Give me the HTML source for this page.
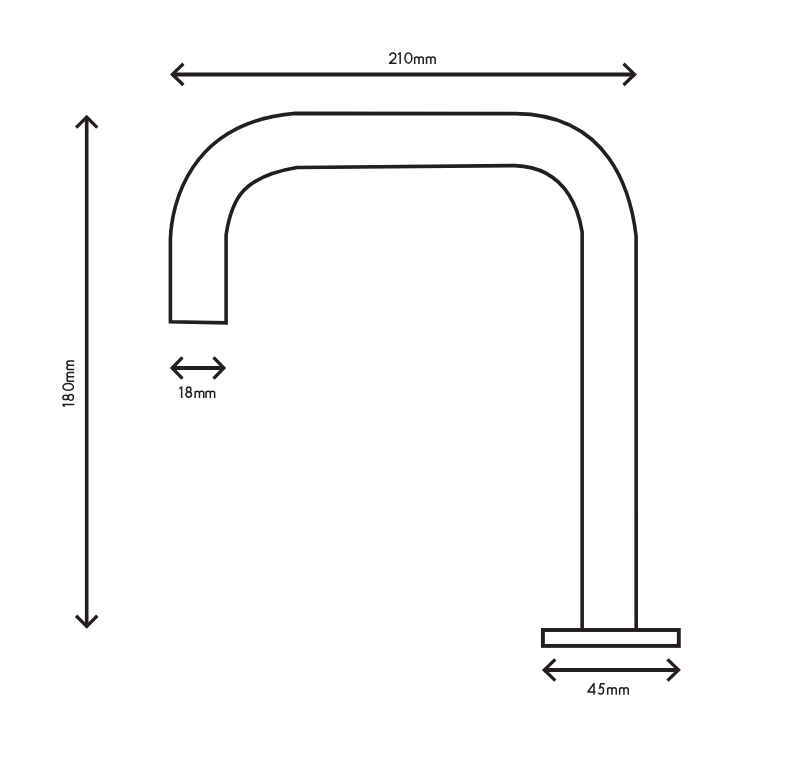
<!DOCTYPE html>
<html><head><meta charset="utf-8"><style>
html,body{margin:0;padding:0;background:#fff;}
svg{display:block;}
text{font-family:"Liberation Sans",sans-serif;fill:#231f20;}
</style></head><body>
<svg width="800" height="759" viewBox="0 0 800 759">
<g fill="none" stroke="#231f20" stroke-width="3.6" stroke-linejoin="miter">
<path d="M582.15,630 L582.15,232 C580.18,219.90 571.49,167.36 514.90,165.60 L297,167.5 C243.76,176.34 231.64,197.63 226.10,235.00 L226.1,322.8 L170.4,321.8 L170.4,239 C171.55,205.98 187.99,122.40 295.20,113.40 L515.7,113.6 C609.45,114.53 630.82,191.57 636.10,236.00 L636.2,630"/>
<rect x="542.9" y="630" width="135.9" height="15.9" stroke-width="3.9"/>
</g>
<g fill="none" stroke="#231f20" stroke-width="4.0" stroke-linejoin="miter" stroke-miterlimit="10">
<path d="M172.38,74.40 L634.52,74.40 M172.11,368.00 L223.89,368.00 M544.28,670.00 L678.52,670.00" stroke-width="4.0"/>
<path d="M86.70,117.03 L86.70,626.37" stroke-width="3.6"/>
<path d="M183.38,63.80 L172.38,74.40 L183.38,85.00 M623.52,63.80 L634.52,74.40 L623.52,85.00 M76.10,127.63 L86.70,117.03 L97.30,127.63 M76.10,615.77 L86.70,626.37 L97.30,615.77 M182.51,357.40 L172.11,368.00 L182.51,378.60 M213.49,357.40 L223.89,368.00 L213.49,378.60 M555.28,659.40 L544.28,670.00 L555.28,680.60 M667.52,659.40 L678.52,670.00 L667.52,680.60" stroke-width="3.3"/>
</g>
<g fill="none" stroke="#231f20" stroke-width="1.5" stroke-linejoin="round">
<g role="img" aria-label="210mm"><title>210mm</title>
<path transform="translate(388.97,63.90)" d="M0.80,-8.10 C0.85,-10.00 2.35,-11.00 3.80,-11.00 C5.35,-11.00 6.85,-9.80 6.85,-8.10 C6.85,-7.00 6.35,-6.20 5.65,-5.30 L0.65,-0.75 L7.60,-0.75"/>
<path transform="translate(397.55,63.90)" d="M0.35,-9.40 L2.65,-11.00 L2.65,0"/>
<path transform="translate(404.20,63.90)" d="M0.75,-5.88 A3.45,5.12 0 1 1 7.65,-5.88 A3.45,5.12 0 1 1 0.75,-5.88 Z"/>
<path transform="translate(413.90,63.90)" d="M0.75,0 L0.75,-6.95 M0.75,-5.05 C0.75,-6.25 1.65,-6.95 2.90,-6.95 C4.15,-6.95 5.05,-6.15 5.05,-4.95 L5.05,0 M5.05,-5.05 C5.05,-6.25 5.95,-6.95 7.20,-6.95 C8.45,-6.95 9.35,-6.15 9.35,-4.95 L9.35,0"/>
<path transform="translate(425.80,63.90)" d="M0.75,0 L0.75,-6.95 M0.75,-5.05 C0.75,-6.25 1.65,-6.95 2.90,-6.95 C4.15,-6.95 5.05,-6.15 5.05,-4.95 L5.05,0 M5.05,-5.05 C5.05,-6.25 5.95,-6.95 7.20,-6.95 C8.45,-6.95 9.35,-6.15 9.35,-4.95 L9.35,0"/>
</g>
<g role="img" aria-label="18mm"><title>18mm</title>
<path transform="translate(179.00,397.90)" d="M0.35,-9.30 L2.65,-10.90 L2.65,0"/>
<path transform="translate(185.10,397.90)" d="M1.40,-8.36 A2.20,2.54 0 1 1 5.80,-8.36 A2.20,2.54 0 1 1 1.40,-8.36 Z M0.75,-3.29 A2.85,2.54 0 1 1 6.45,-3.29 A2.85,2.54 0 1 1 0.75,-3.29 Z"/>
<path transform="translate(194.40,397.90)" d="M0.75,0 L0.75,-6.65 M0.75,-4.75 C0.75,-5.95 1.65,-6.65 2.90,-6.65 C4.15,-6.65 5.05,-5.85 5.05,-4.65 L5.05,0 M5.05,-4.75 C5.05,-5.95 5.95,-6.65 7.20,-6.65 C8.45,-6.65 9.35,-5.85 9.35,-4.65 L9.35,0"/>
<path transform="translate(205.30,397.90)" d="M0.75,0 L0.75,-6.65 M0.75,-4.75 C0.75,-5.95 1.65,-6.65 2.90,-6.65 C4.15,-6.65 5.05,-5.85 5.05,-4.65 L5.05,0 M5.05,-4.75 C5.05,-5.95 5.95,-6.65 7.20,-6.65 C8.45,-6.65 9.35,-5.85 9.35,-4.65 L9.35,0"/>
</g>
<g role="img" aria-label="45mm"><title>45mm</title>
<path transform="translate(587.25,694.70)" d="M6.70,0 L6.70,-11.25 L0.65,-2.70 L8.30,-2.70"/>
<path transform="translate(597.60,694.70)" d="M7.20,-11.05 L3.10,-11.05 L2.00,-6.55 C2.70,-7.10 3.50,-7.35 4.20,-7.35 C5.40,-7.35 5.90,-6.05 5.90,-3.85 C5.90,-1.80 4.80,-0.75 3.40,-0.75 C2.30,-0.75 1.20,-1.20 0.55,-2.00"/>
<path transform="translate(606.94,694.70)" d="M0.75,0 L0.75,-7.05 M0.75,-5.15 C0.75,-6.35 1.65,-7.05 2.90,-7.05 C4.15,-7.05 5.05,-6.25 5.05,-5.05 L5.05,0 M5.05,-5.15 C5.05,-6.35 5.95,-7.05 7.20,-7.05 C8.45,-7.05 9.35,-6.25 9.35,-5.05 L9.35,0"/>
<path transform="translate(618.90,694.70)" d="M0.75,0 L0.75,-7.05 M0.75,-5.15 C0.75,-6.35 1.65,-7.05 2.90,-7.05 C4.15,-7.05 5.05,-6.25 5.05,-5.05 L5.05,0 M5.05,-5.15 C5.05,-6.35 5.95,-7.05 7.20,-7.05 C8.45,-7.05 9.35,-6.25 9.35,-5.05 L9.35,0"/>
</g>
<g role="img" aria-label="180mm"><title>180mm</title>
<path transform="translate(74.20,407.10) rotate(-90)" d="M0.35,-9.65 L2.65,-11.25 L2.65,0"/>
<path transform="translate(74.20,401.00) rotate(-90)" d="M1.40,-8.62 A2.20,2.62 0 1 1 5.80,-8.62 A2.20,2.62 0 1 1 1.40,-8.62 Z M0.75,-3.38 A2.85,2.62 0 1 1 6.45,-3.38 A2.85,2.62 0 1 1 0.75,-3.38 Z"/>
<path transform="translate(74.20,391.10) rotate(-90)" d="M0.75,-6.00 A3.45,5.25 0 1 1 7.65,-6.00 A3.45,5.25 0 1 1 0.75,-6.00 Z"/>
<path transform="translate(74.20,381.90) rotate(-90)" d="M0.75,0 L0.75,-7.25 M0.75,-5.35 C0.75,-6.55 1.65,-7.25 2.90,-7.25 C4.15,-7.25 5.05,-6.45 5.05,-5.25 L5.05,0 M5.05,-5.35 C5.05,-6.55 5.95,-7.25 7.20,-7.25 C8.45,-7.25 9.35,-6.45 9.35,-5.25 L9.35,0"/>
<path transform="translate(74.20,370.30) rotate(-90)" d="M0.75,0 L0.75,-7.25 M0.75,-5.35 C0.75,-6.55 1.65,-7.25 2.90,-7.25 C4.15,-7.25 5.05,-6.45 5.05,-5.25 L5.05,0 M5.05,-5.35 C5.05,-6.55 5.95,-7.25 7.20,-7.25 C8.45,-7.25 9.35,-6.45 9.35,-5.25 L9.35,0"/>
</g>
</g>
</svg>
</body></html>
